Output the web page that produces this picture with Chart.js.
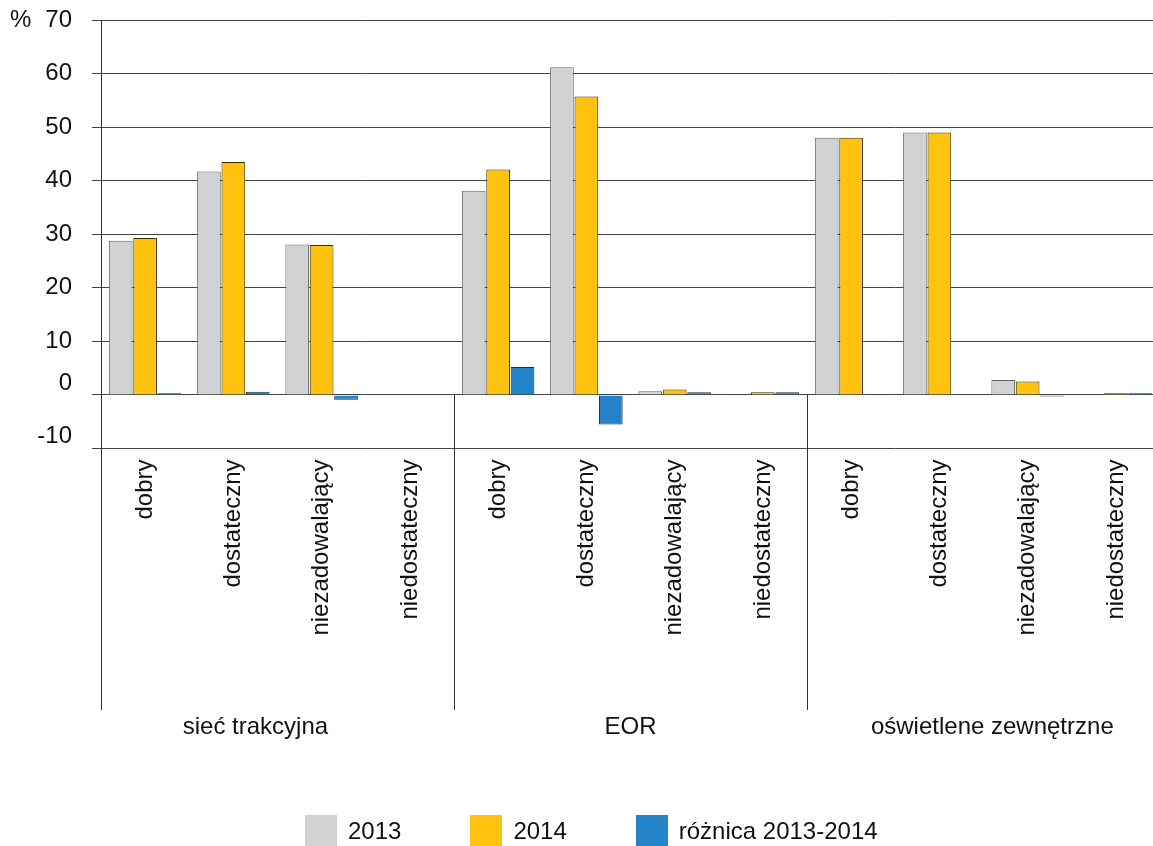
<!DOCTYPE html>
<html>
<head>
<meta charset="utf-8">
<script src="https://cdn.jsdelivr.net/npm/chart.js@4.4.0/dist/chart.umd.min.js"></script>
<style>
  html, body { margin: 0; padding: 0; background: #fff; overflow: hidden; }
  #wrap { position: relative; width: 1153px; height: 846px; overflow: hidden; }
  canvas { position: absolute; left: 0; top: 0; }
  #legend { position: absolute; left: 305px; top: 815px; display: flex;
            font: 24px "Liberation Sans", Arial, sans-serif; color: #111; }
  .item { display: flex; align-items: center; margin-right: 69px; }
  .box { width: 32px; height: 32px; margin-right: 11px; }
</style>
</head>
<body>
<div id="wrap">
  <canvas id="chart" width="1160" height="846"></canvas>
  <div id="legend"></div>
</div>
<script>
const categories = [
  'dobry', 'dostateczny', 'niezadowalający', 'niedostateczny',
  'dobry', 'dostateczny', 'niezadowalający', 'niedostateczny',
  'dobry', 'dostateczny', 'niezadowalający', 'niedostateczny'
]
const groups = ['sieć trakcyjna', 'EOR', 'oświetlene zewnętrzne']
const seriesNames = ['2013', '2014', 'różnica 2013-2014']

const values2013 = [28.8, 41.7, 28.1, null, 38.1, 61.2, 0.7, null, 48.0, 49.0, 2.8, null]
const values2014 = [29.3, 43.5, 28.0, null, 42.1, 55.7, 1.0, 0.5, 48.0, 49.0, 2.5, 0.3]
const valuesDiff = [0.3, 0.6, -0.9, null, 5.2, -5.5, 0.5, 0.5, null, null, -0.3, 0.3]

const yTicks = [-10, 0, 10, 20, 30, 40, 50, 60, 70]

const FONT = '"Liberation Sans", Arial, sans-serif'

// group label anchors, in category units
const groupAnchors = [1.25, 5.5, 9.6]

const decorations = {
  id: 'decorations',
  afterDraw(chart) {
    const {ctx, chartArea, scales: {x, y}} = chart
    const bottom = 710
    ctx.save()
    ctx.strokeStyle = '#333'
    ctx.lineWidth = 1
    // y axis continues down through the label area
    ctx.beginPath()
    ctx.moveTo(Math.round(chartArea.left) + 0.5, chartArea.bottom)
    ctx.lineTo(Math.round(chartArea.left) + 0.5, bottom)
    ctx.stroke()
    // group separators
    const zero = y.getPixelForValue(0)
    for (let g = 1; g < groups.length; g++) {
      const px = Math.round((x.getPixelForValue(g * 4 - 1) + x.getPixelForValue(g * 4)) / 2) + 0.5
      ctx.beginPath()
      ctx.moveTo(px, zero)
      ctx.lineTo(px, bottom)
      ctx.stroke()
    }
    ctx.fillStyle = '#111'
    ctx.font = '24px ' + FONT
    ctx.textBaseline = 'middle'
    ctx.textAlign = 'center'
    groups.forEach((g, i) => {
      ctx.fillText(g, x.getPixelForValue(groupAnchors[i]), 727)
    })
    // unit
    ctx.textAlign = 'left'
    ctx.fillText('%', 10, y.getPixelForValue(70))
    // 0 and -10 labels sit a little above their lines
    ctx.textAlign = 'right'
    ctx.fillText('0', 72, y.getPixelForValue(0) - 12)
    ctx.fillText('-10', 72, y.getPixelForValue(-10) - 12)
    ctx.restore()
  }
}

const chart = new Chart(document.getElementById('chart'), {
  type: 'bar',
  data: {
    labels: categories,
    datasets: [{
      label: seriesNames[0],
      data: values2013,
      backgroundColor: '#d1d2d4',
      borderColor: '#666',
      borderWidth: 1
    }, {
      label: seriesNames[1],
      data: values2014,
      backgroundColor: '#ffc20e',
      borderColor: '#3a3000',
      borderWidth: 1
    }, {
      label: seriesNames[2],
      data: valuesDiff,
      backgroundColor: '#2382c8',
      borderColor: '#1a2a3a',
      borderWidth: 1
    }]
  },
  options: {
    responsive: false,
    animation: false,
    categoryPercentage: 0.83,
    barPercentage: 0.97,
    layout: { padding: { top: 20, right: 0, bottom: 0, left: 0 } },
    plugins: {
      legend: { display: false },
      tooltip: { enabled: false }
    },
    scales: {
      x: {
        grid: { display: false },
        border: { display: false },
        ticks: {
          autoSkip: false,
          minRotation: 90,
          maxRotation: 90,
          padding: 3,
          color: '#111',
          font: { family: FONT, size: 24 }
        },
        afterFit(scale) { scale.height = 846 - 448.5 }
      },
      y: {
        min: -10,
        max: 70,
        afterBuildTicks(scale) { scale.ticks = yTicks.map(v => ({value: v})) },
        grid: { color: '#444', lineWidth: 1, tickLength: 9 },
        border: { display: true, color: '#333' },
        ticks: {
          padding: 20,
          color: '#111',
          font: { family: FONT, size: 24 },
          callback: v => (v <= 0 ? '' : v)
        },
        afterFit(scale) {
          scale.width = 101
          scale.paddingTop = 0
          scale.paddingBottom = 0
        }
      }
    }
  },
  plugins: [decorations]
})

const legend = document.getElementById('legend')
chart.data.datasets.forEach(ds => {
  const item = document.createElement('div')
  item.className = 'item'
  const box = document.createElement('span')
  box.className = 'box'
  box.style.background = ds.backgroundColor
  const txt = document.createElement('span')
  txt.textContent = ds.label
  item.appendChild(box)
  item.appendChild(txt)
  legend.appendChild(item)
})
</script>
</body>
</html>
